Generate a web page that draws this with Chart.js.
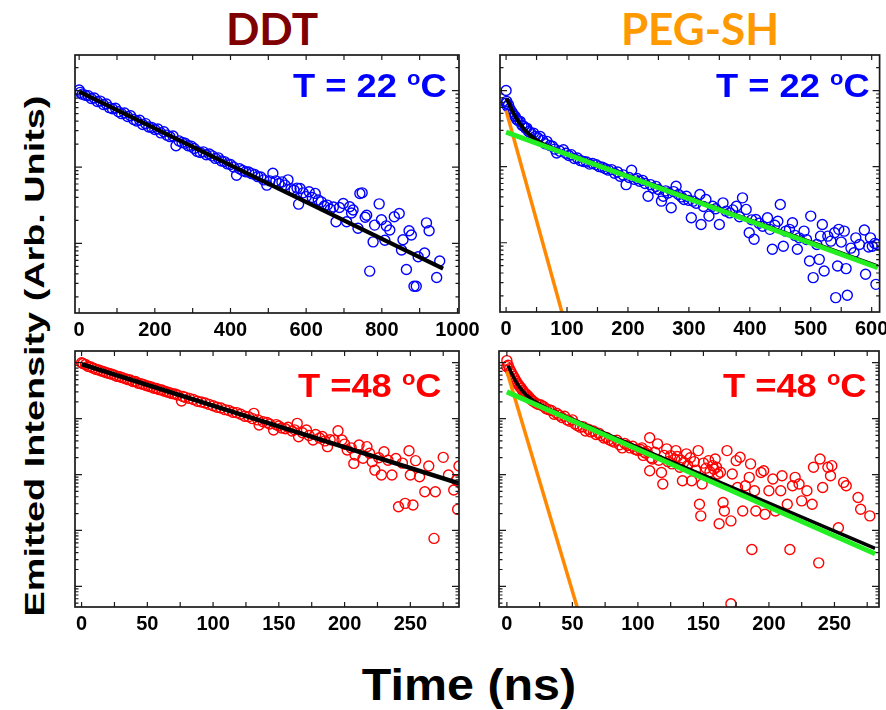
<!DOCTYPE html>
<html>
<head>
<meta charset="utf-8">
<script src="https://cdn.jsdelivr.net/npm/chart.js@4.4.1/dist/chart.umd.min.js"></script>
<style>
  body { margin: 0; background: #fff; }
  #wrap { position: relative; width: 886px; height: 710px; overflow: hidden; font-family: "Liberation Sans", Arial, sans-serif; }
  canvas { position: absolute; }
  .title { position: absolute; top: 6px; font-family: Lato, "Open Sans", sans-serif; font-weight: bold; font-size: 44px; line-height: 44px; transform: translateX(-50%); white-space: nowrap; }
  .temp { position: absolute; font-weight: bold; font-size: 33px; line-height: 33px; white-space: nowrap; transform: scaleX(1.1); transform-origin: right center; }
  .temp sup { font-size: 20px; line-height: 0; vertical-align: 12px; }
  #xtitle { position: absolute; left: 469px; top: 663px; font-weight: bold; font-size: 44px; line-height: 44px; white-space: nowrap; transform: translateX(-50%) scaleX(1.1); }
  #ytitle { position: absolute; left: 35px; top: 356px; font-weight: bold; font-size: 28px; line-height: 28px; white-space: nowrap; transform: translate(-50%, -50%) rotate(-90deg) scaleX(1.35); }
</style>
</head>
<body>
<div id="wrap">
  <div class="title" style="left:272px;color:#7f0000">DDT</div>
  <div class="title" style="left:700px;color:#ff9900">PEG-SH</div>

  <canvas id="c1" width="420" height="300" style="left:60px;top:45px"></canvas>
  <canvas id="c2" width="401" height="300" style="left:485px;top:45px"></canvas>
  <canvas id="c3" width="420" height="300" style="left:60px;top:341px"></canvas>
  <canvas id="c4" width="402" height="300" style="left:484px;top:341px"></canvas>

  <div class="temp" style="right:439px;top:69px;color:#0000ff">T = 22 <sup>o</sup>C</div>
  <div class="temp" style="right:16px;top:69px;color:#0000ff">T = 22 <sup>o</sup>C</div>
  <div class="temp" style="right:444px;top:369px;color:#ff0000">T =48 <sup>o</sup>C</div>
  <div class="temp" style="right:19px;top:369px;color:#ff0000">T =48 <sup>o</sup>C</div>

  <div id="ytitle">Emitted Intensity (Arb. Units)</div>
  <div id="xtitle">Time (ns)</div>
</div>

<script>
// tick labels
const ticksDdt22 = [0, 200, 400, 600, 800, 1000];
const ticksPeg22 = [0, 100, 200, 300, 400, 500, 600];
const ticks48 = [0, 50, 100, 150, 200, 250];

// DDT, 22 C : [time ns, intensity]
const ddt22Points = [[0,1.02],[3,0.95],[8,0.90],[16,0.87],[24,0.86],[32,0.79],[40,0.80],[48,0.72],[56,0.73],[64,0.66],[72,0.67],[80,0.60],[88,0.58],[96,0.59],[104,0.53],[112,0.50],[120,0.51],[128,0.46],[136,0.47],[144,0.42],[152,0.40],[160,0.41],[168,0.36],[176,0.37],[184,0.335],[192,0.33],[200,0.31],[208,0.315],[216,0.28],[224,0.29],[232,0.262],[240,0.25],[248,0.255],[256,0.19],[264,0.22],[272,0.21],[280,0.205],[288,0.19],[296,0.188],[304,0.175],[312,0.16],[320,0.155],[328,0.158],[336,0.145],[344,0.148],[352,0.14],[360,0.13],[368,0.132],[376,0.12],[384,0.118],[392,0.11],[400,0.108],
  [408,0.10],[416,0.078],[424,0.095],[432,0.09],[440,0.087],[448,0.086],[456,0.082],[464,0.08],[472,0.075],[480,0.074],[488,0.068],[496,0.058],[504,0.066],[512,0.083],[520,0.066],[528,0.061],[536,0.064],[544,0.058],[552,0.068],[560,0.052],[568,0.05],[576,0.053],
  [580,0.0327],[584,0.0525],[592,0.046],[600,0.041],[608,0.0475],[616,0.04],[624,0.0452],[632,0.037],[640,0.035],[648,0.031],[656,0.0318],[664,0.028],[672,0.03],
  [679,0.0192],[688,0.0295],[698,0.0334],[707,0.0192],[715,0.0302],[720,0.025],[724,0.0274],[737,0.0158],[742,0.045],[748,0.046],[756,0.022],[760,0.0234],[768,0.00434],[777,0.0105],[781,0.0174],[793,0.033],[799,0.0204],[808,0.011],[812,0.017],[821,0.015],[833,0.0224],[846,0.0247],[852,0.0082],[856,0.0112],[865,0.00457],[872,0.0147],[878,0.0129],[885,0.00276],[891,0.00276],[896,0.0067],[913,0.0075],[918,0.0186],[925,0.0147],[945,0.00359],[953,0.0059]];
const ddt22Fit = [[0,0.97],[962,0.0047]];

// PEG-SH, 22 C
const peg22Points = [[0,1.0],[0,0.68],[1,0.72],[2,0.62],[4,0.649],[6,0.58],[9,0.531],[11,0.5],[13,0.47],[15,0.457],[17,0.42],[20,0.40],[23,0.393],[26,0.35],[29,0.34],[32,0.32],[34,0.321],[37,0.29],[40,0.28],[45,0.276],[48,0.25],[52,0.24],[56,0.249],[60,0.22],[64,0.2],[67,0.215],[72,0.19],[76,0.185],[80,0.17],[83,0.151],[88,0.16],[94,0.167],[98,0.15],[103,0.14],[107,0.1436],[112,0.128],[117,0.13],[122,0.12],[127,0.117],[132,0.115],[137,0.108],[142,0.11],[148,0.106],[153,0.1],[158,0.098],[163,0.094],[168,0.09],[173,0.0914],[178,0.082],[183,0.085],[187,0.0747],[192,0.078],[197,0.058],[202,0.072],[206,0.0895],[211,0.068],[215,0.07],[219,0.0643],[224,0.066],[228,0.06],[233,0.0409],[237,0.058],[241,0.0525],[246,0.055],[250,0.05],[255,0.0352],[258,0.0409],[262,0.048],[266,0.045],[271,0.0288],[275,0.047],[279,0.0552],[283,0.043],[288,0.04],[292,0.037],[296,0.0409],[300,0.036],[304,0.0213],[307,0.0352],[312,0.033],[318,0.043],[320,0.0174],[324,0.03],[328,0.037],[333,0.0224],[339,0.0302],[344,0.028],[350,0.0174],[356,0.0334],[361,0.026],[367,0.0247],[372,0.027],[378,0.0302],[383,0.022],[388,0.0389],[394,0.0274],[399,0.0135],[403,0.02],[407,0.0111],[410,0.0202],[415,0.018],[421,0.0165],[429,0.0213],[433,0.015],[437,0.0082],[441,0.017],[446,0.0192],[450,0.0318],[455,0.009],[459,0.0142],[465,0.015],[470,0.0183],[474,0.0125],[478,0.0082],[481,0.0116],[489,0.0142],[493,0.011],[498,0.00575],[500,0.0224],[504,0.00348],[510,0.0095],[514,0.00605],[516,0.0122],[519,0.0174],[522,0.00426],[528,0.0122],[533,0.0105],[539,0.0135],[541,0.0019],[544,0.00494],[546,0.015],[550,0.0102],[555,0.0142],[558,0.00457],[560,0.00204],[566,0.0085],[571,0.0074],[574,0.0116],[580,0.0095],[588,0.0147],[590,0.00385],[595,0.0088],[598,0.0116],[601,0.009],[605,0.0098],[607,0.00284],[609,0.0095]];
const peg22Fast = [[0,0.547],[100,0.0007]];
const peg22Slow = [[0,0.284],[610,0.0047]];
const peg22Sum = [[1,0.794],[5,0.667],[10,0.547],[15,0.458],[20,0.392],[30,0.306],[40,0.255],[50,0.2225],[60,0.1997],[80,0.1685],[100,0.1457],[610,0.0049]];

// DDT, 48 C
const ddt48Points = [[0,1.0],[1,0.97],[3,0.93],[5,0.86],[7,0.84],[9,0.80],[11,0.76],[13,0.74],[15,0.71],[17,0.69],[19,0.66],[21,0.64],[23,0.62],[25,0.60],[27,0.57],[29,0.56],[31,0.54],[33,0.52],[35,0.50],[37,0.49],[39,0.46],[41,0.46],[43,0.43],[45,0.42],[47,0.41],[49,0.39],[51,0.38],[53,0.37],[55,0.35],[57,0.345],[59,0.33],[61,0.325],[63,0.31],[65,0.30],[67,0.29],[69,0.28],[71,0.275],[73,0.265],[76,0.206],[77,0.25],[79,0.24],[82,0.23],[85,0.22],[88,0.205],[91,0.198],[94,0.19],[97,0.18],[100,0.17],[103,0.16],[106,0.155],[109,0.145],[112,0.14],[115,0.13],[118,0.128],[121,0.12],[124,0.11],[127,0.108],[130,0.10],[131,0.124],[134,0.095],[135,0.0768],[138,0.088],[141,0.085],[143,0.08],[146,0.0625],[148,0.078],[150,0.074],[152,0.068],[155,0.066],[157,0.07],[160,0.06],[162,0.063],[164,0.0822],[165,0.0475],[168,0.056],[171,0.0625],[173,0.05],[176,0.0414],[178,0.052],[181,0.045],[183,0.048],[185,0.04],[187,0.0315],[189,0.042],[192,0.0413],[195,0.0608],[198,0.0414],[200,0.035],[202,0.0274],[205,0.03],[207,0.0158],[208,0.0223],[211,0.0337],[214,0.0195],[217,0.0315],[219,0.024],[221,0.017],[223,0.012],[226,0.02],[228,0.0098],[230,0.0256],[233,0.018],[236,0.0098],[239,0.0194],[241,0.00266],[244,0.016],[246,0.00305],[249,0.0267],[250,0.0098],[252,0.00285],[254,0.0177],[257,0.00914],[261,0.00493],[264,0.0142],[268,0.00072],[269,0.00493],[275,0.0203],[279,0.0098],[283,0.00528],[285,0.0079],[286,0.00238],[287,0.0142]];
const ddt48Fit = [[0,0.946],[287,0.00695]];

// PEG-SH, 48 C
const peg48Points = [[0,1.09],[0,0.85],[1,0.9],[2,0.78],[3,0.7],[4,0.63],[5,0.57],[6,0.52],[7,0.47],[8,0.43],[9,0.4],[10,0.37],[11,0.35],[12,0.32],[13,0.3],[14,0.28],[15,0.27],[16,0.255],[17,0.24],[18,0.225],[19,0.215],[20,0.205],[22,0.19],[24,0.18],[26,0.175],[28,0.165],[30,0.15],[32,0.145],[34,0.14],[36,0.12],[38,0.125],[40,0.115],[42,0.105],[44,0.11],[46,0.095],[48,0.09],[50,0.095],[52,0.08],[54,0.075],[56,0.07],[58,0.072],[60,0.06],[62,0.065],[64,0.058],[66,0.06],[68,0.052],[70,0.055],[72,0.05],[74,0.045],[76,0.046],[78,0.042],[80,0.04],[82,0.038],[84,0.041],[86,0.034],[88,0.03],[90,0.036],[92,0.033],[94,0.03],[96,0.032],[98,0.028],[100,0.027],[102,0.028],[103,0.03],[104,0.022],[105,0.025],[106,0.024],[107,0.026],
  [109,0.0454],[109,0.0117],[110,0.02],[111,0.019],[113,0.025],[115,0.0354],[116,0.018],[118,0.0109],[119,0.00675],[120,0.022],[122,0.0288],[123,0.017],[125,0.0218],[126,0.0155],[128,0.019],[129,0.0268],[130,0.021],[132,0.0135],[133,0.018],[134,0.00774],[135,0.0165],[137,0.0234],[138,0.0145],[140,0.02],[141,0.00774],[143,0.017],[144,0.012],[146,0.0268],[147,0.00294],[148,0.00182],[149,0.00675],[150,0.016],[152,0.013],[154,0.0177],[155,0.0112],[157,0.0144],[158,0.0125],[159,0.019],[160,0.0135],[161,0.0102],[162,0.00132],[163,0.011],[165,0.00316],[166,0.00223],[168,0.0268],[171,0.00148],[171,0.0000488],[172,0.0102],[175,0.0177],[176,0.00587],[178,0.0204],[180,0.00223],[182,0.0063],[185,0.00889],[186,0.0155],[187,0.000457],[189,0.00512],[190,0.00223],[194,0.0109],[196,0.0117],[197,0.00195],[200,0.00512],[203,0.0083],[205,0.00223],[209,0.00512],[210,0.0095],[214,0.00294],[216,0.000457],[218,0.0063],[220,0.00889],[223,0.00675],[225,0.00338],[229,0.00512],[233,0.00294],[234,0.0135],[238,0.000263],[239,0.019],[241,0.00587],[245,0.0135],[247,0.0095],[248,0.0144],[253,0.00112],[257,0.00723],[259,0.0063],[268,0.00388],[270,0.00239],[277,0.00182]];
const peg48Fast = [[0,0.7],[56,0.0000277]];
const peg48Slow = [[0,0.301],[281,0.000382]];
const peg48Sum = [[1,0.88],[3,0.692],[5,0.555],[7,0.457],[9,0.385],[12,0.311],[15,0.262],[20,0.211],[30,0.156],[40,0.122],[281,0.000476]];

const xy = pts => pts.map(p => ({ x: p[0], y: p[1] }));

// box with inward ticks on all four sides
const frameTicks = {
  id: 'frameTicks',
  afterDatasetsDraw(chart, args, opts) {
    const { ctx, chartArea: a, scales: { x, y } } = chart;
    ctx.save();
    ctx.strokeStyle = '#1a1a1a';
    ctx.lineWidth = 1.2;
    ctx.beginPath();
    for (let v = Math.ceil(x.min / opts.xStep) * opts.xStep; v <= x.max; v += opts.xStep) {
      const px = x.getPixelForValue(v);
      ctx.moveTo(px, a.top); ctx.lineTo(px, a.top + 5);
      ctx.moveTo(px, a.bottom); ctx.lineTo(px, a.bottom - 5);
    }
    for (let e = Math.floor(Math.log10(y.min)); e <= Math.ceil(Math.log10(y.max)); e++) {
      for (let m = 1; m < 10; m++) {
        const v = m * Math.pow(10, e);
        if (v < y.min || v > y.max) continue;
        const py = y.getPixelForValue(v);
        const len = m === 1 ? 7 : 3.5;
        ctx.moveTo(a.left, py); ctx.lineTo(a.left + len, py);
        ctx.moveTo(a.right, py); ctx.lineTo(a.right - len, py);
      }
    }
    ctx.stroke();
    ctx.lineWidth = 1.7;
    ctx.strokeRect(a.left, a.top, a.right - a.left, a.bottom - a.top);
    ctx.restore();
  }
};

function points(pts, color) {
  return { data: xy(pts), showLine: false, pointStyle: 'circle', pointRadius: 5,
           pointBorderWidth: 1.4, pointBorderColor: color, pointBackgroundColor: 'rgba(0,0,0,0)' };
}
function fit(pts, color, width) {
  return { data: xy(pts), showLine: true, borderColor: color, borderWidth: width,
           pointRadius: 0, tension: 0, clip: 0 };
}

function panel(id, cfg) {
  return new Chart(document.getElementById(id), {
    type: 'scatter',
    data: { datasets: cfg.datasets },
    options: {
      responsive: false, animation: false, devicePixelRatio: 1,
      layout: { padding: cfg.pad },
      plugins: { legend: { display: false }, tooltip: { enabled: false }, frameTicks: { xStep: cfg.xStep } },
      scales: {
        x: {
          type: 'linear', min: cfg.xMin, max: cfg.xMax,
          grid: { display: false, drawTicks: false }, border: { display: false },
          afterBuildTicks: s => { s.ticks = cfg.ticks.map(v => ({ value: v })); },
          afterFit: s => { s.height = 30; s.paddingLeft = 0; s.paddingRight = 0; },
          ticks: { padding: 5, color: '#000', autoSkip: false, maxRotation: 0,
                   callback: v => String(v),
                   font: { family: '"Liberation Sans", Arial, sans-serif', size: 20, weight: 'bold' } }
        },
        y: { type: 'logarithmic', display: false, min: cfg.yMin, max: cfg.yMax }
      }
    },
    plugins: [frameTicks]
  });
}

panel('c1', {
  pad: { left: 15, right: 21, top: 10, bottom: 2 },
  xMin: -11, xMax: 1004, xStep: 100, ticks: ticksDdt22, yMin: 0.00123, yMax: 2.93,
  datasets: [fit(ddt22Fit, '#000', 4.2), points(ddt22Points, '#0000ff')]
});
panel('c2', {
  pad: { left: 15, right: 6, top: 10, bottom: 3 },
  xMin: -10, xMax: 613, xStep: 50, ticks: ticksPeg22, yMin: 0.00123, yMax: 2.93,
  datasets: [fit(peg22Slow, '#22ee22', 5), fit(peg22Fast, '#ff8800', 3.5),
             fit(peg22Sum, '#000', 4), points(peg22Points, '#0000ff')]
});
panel('c3', {
  pad: { left: 15, right: 21, top: 10, bottom: 4 },
  xMin: -5, xMax: 287, xStep: 25, ticks: ticks48, yMin: 0.0000427, yMax: 1.62,
  datasets: [fit(ddt48Fit, '#000', 4.5), points(ddt48Points, '#ff0000')]
});
panel('c4', {
  pad: { left: 15, right: 7, top: 10, bottom: 4 },
  xMin: -6, xMax: 284, xStep: 25, ticks: ticks48, yMin: 0.0000427, yMax: 1.62,
  datasets: [fit(peg48Slow, '#22ee22', 5), fit(peg48Fast, '#ff8800', 3.5),
             fit(peg48Sum, '#000', 3.5), points(peg48Points, '#ff0000')]
});
</script>
</body>
</html>
